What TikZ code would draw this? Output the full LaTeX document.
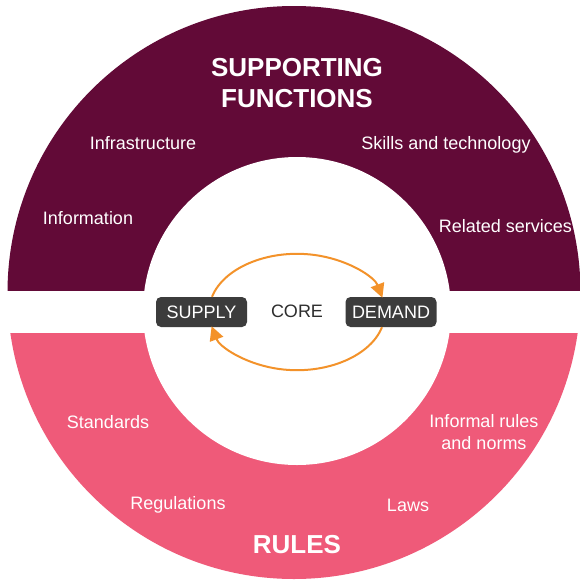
\documentclass[tikz,border=0pt]{standalone}
\usepackage{fontspec}
\setmainfont{Liberation Sans}
\usetikzlibrary{arrows.meta}
\definecolor{ringdark}{HTML}{620A37}
\definecolor{ringpink}{HTML}{EF5A79}
\definecolor{boxgray}{HTML}{3C3C3C}
\definecolor{coretext}{HTML}{2E2E2E}
\definecolor{floworange}{HTML}{F3922A}
\begin{document}
\begin{tikzpicture}[x=1pt,y=-1pt,
  titletext/.style={font=\bfseries\fontsize{26}{31}\selectfont, text=white, align=center, inner sep=0pt},
  lbl/.style={font=\fontsize{18}{22}\selectfont, text=white, anchor=base, inner sep=0pt},
  lblmulti/.style={font=\fontsize{18}{22}\selectfont, text=white, align=center, inner sep=0pt},
  corebox/.style={fill=boxgray, rounded corners=5pt, text=white, minimum width=91pt, minimum height=30pt, inner sep=0pt, font=\fontsize{18}{22}\selectfont},
  flow/.style={draw=floworange, line width=2pt, -{Triangle[length=14pt,width=14pt]}}
]
\useasboundingbox (0,0) rectangle (580,581);
\fill[white] (0,0) rectangle (580,581);
\begin{scope}
  \clip (0,0) rectangle (580,290);
  \fill[ringdark] (294,292.5) circle[radius=286.5];
\end{scope}
\begin{scope}
  \clip (0,333) rectangle (580,581);
  \fill[ringpink] (294,292.5) circle[radius=286.5];
\end{scope}
\fill[white] (297,311) circle[radius=154];

\node[titletext] (sf) at (297,83) {SUPPORTING\\FUNCTIONS};
\node[lbl] (infra) at (143,149.5) {Infrastructure};
\node[lbl] (info) at (88,224.5) {Information};
\node[lbl] (skills) at (446,149.5) {Skills and technology};
\node[lbl] (related) at (505.5,232) {Related services};

\node[lbl] (standards) at (108,428) {Standards};
\node[lbl] (regs) at (178,509) {Regulations};
\node[lbl] (laws) at (408,511) {Laws};
\node[lblmulti] (informal) at (484,432.5) {Informal rules\\and norms};
\node[titletext, anchor=base] (rules) at (297,553.3) {RULES};

\node[corebox] (supply) at (201.5,312) {SUPPLY};
\node[corebox] (demand) at (391,312) {DEMAND};
\node[font=\fontsize{18}{22}\selectfont, text=coretext, inner sep=0pt] (core) at (297,311.5) {CORE};

\draw[flow] ([xshift=10.5pt]supply.north) arc[start angle=-165, end angle=-14, x radius=88, y radius=58];
\draw[flow] ([xshift=-9pt]demand.south) arc[start angle=15, end angle=166, x radius=88, y radius=58];
\end{tikzpicture}
\end{document}
